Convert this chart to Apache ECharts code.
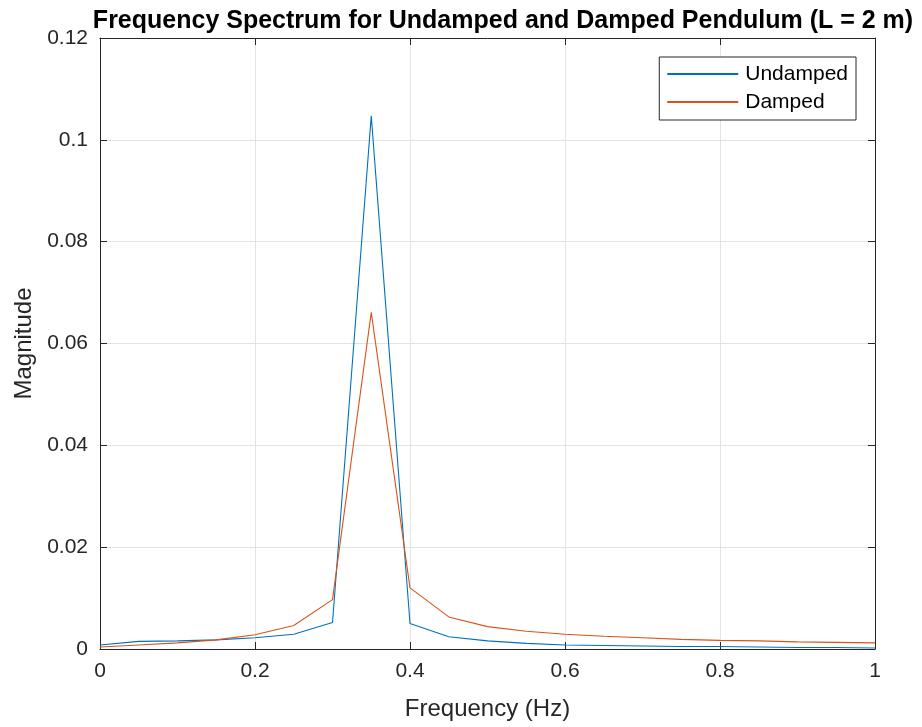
<!DOCTYPE html>
<html>
<head>
<meta charset="utf-8">
<script src="https://cdn.jsdelivr.net/npm/echarts@6/dist/echarts.min.js"></script>
<style>
  html, body { margin: 0; padding: 0; background: #fff; }
  #chart { width: 922px; height: 727px; }
</style>
</head>
<body>
<div id="chart"></div>
<script>
// frequency bins (Hz)
const freq = [0, 0.05, 0.1, 0.15, 0.2, 0.25, 0.3, 0.35, 0.4, 0.45, 0.5,
  0.55, 0.6, 0.65, 0.7, 0.75, 0.8, 0.85, 0.9, 0.95, 1.0]

const undamped = [0.0008, 0.0015, 0.0016, 0.0018, 0.0022, 0.0029, 0.0052, 0.1047, 0.0050, 0.0024, 0.0016,
  0.0011, 0.0008, 0.0007, 0.0006, 0.0005, 0.0005, 0.0004, 0.0003, 0.0003, 0.0002]

const damped = [0.0004, 0.0008, 0.0012, 0.0018, 0.0028, 0.0046, 0.0097, 0.0661, 0.0120, 0.0063, 0.0044,
  0.0035, 0.0029, 0.0025, 0.0022, 0.0019, 0.0017, 0.0016, 0.0014, 0.0013, 0.0012]

const toPairs = (ys) => freq.map((x, i) => [x, ys[i]])

const font = 'Liberation Sans, Arial, Helvetica, sans-serif'
const axisCol = '#262626'

var myChart = echarts.init(document.getElementById('chart'))

const boxAxis = {
  axisLine: { show: true, onZero: false, lineStyle: { color: axisCol, width: 1 } },
  axisTick: { show: true, inside: true, length: 7, lineStyle: { color: axisCol } },
  axisLabel: { show: false },
  splitLine: { show: false },
}

var option = {
  backgroundColor: '#fff',
  animation: false,
  title: {
    text: 'Frequency Spectrum for Undamped and Damped Pendulum (L = 2 m)',
    left: 498,
    top: 4,
    textAlign: 'center',
    textStyle: { fontFamily: font, fontSize: 25, fontWeight: 'bold', color: '#000' },
  },
  grid: { left: 100, right: 47, top: 38, bottom: 78 },
  legend: {
    orient: 'vertical',
    right: 66,
    top: 57,
    padding: [5, 8, 6, 8],
    itemGap: 4,
    itemWidth: 71,
    itemHeight: 2,
    icon: 'rect',
    borderColor: axisCol,
    borderWidth: 1,
    backgroundColor: '#fff',
    textStyle: { fontFamily: font, fontSize: 21, lineHeight: 24, color: '#000', padding: [0, 0, 0, 2] },
    data: ['Undamped', 'Damped'],
  },
  xAxis: [
    {
      type: 'value',
      min: 0,
      max: 1,
      interval: 0.2,
      name: 'Frequency (Hz)',
      nameLocation: 'middle',
      nameGap: 48,
      nameTextStyle: { fontFamily: font, fontSize: 24, color: axisCol },
      axisLine: { show: true, onZero: false, lineStyle: { color: axisCol } },
      axisTick: { show: true, inside: true, length: 7, lineStyle: { color: axisCol } },
      axisLabel: { fontFamily: font, fontSize: 21, color: axisCol, margin: 12 },
      splitLine: { show: true, lineStyle: { color: '#e3e3e3', width: 1 } },
    },
    Object.assign({ type: 'value', position: 'top', min: 0, max: 1, interval: 0.2 }, boxAxis),
  ],
  yAxis: [
    {
      type: 'value',
      min: 0,
      max: 0.12,
      interval: 0.02,
      name: 'Magnitude',
      nameLocation: 'middle',
      nameGap: 62,
      nameTextStyle: { fontFamily: font, fontSize: 24, color: axisCol },
      axisLine: { show: true, lineStyle: { color: axisCol } },
      axisTick: { show: true, inside: true, length: 7, lineStyle: { color: axisCol } },
      axisLabel: { fontFamily: font, fontSize: 21, color: axisCol, margin: 12 },
      splitLine: { show: true, lineStyle: { color: '#e3e3e3', width: 1 } },
    },
    Object.assign({ type: 'value', position: 'right', min: 0, max: 0.12, interval: 0.02 }, boxAxis),
  ],
  series: [
    {
      name: 'Undamped',
      type: 'line',
      data: toPairs(undamped),
      symbol: 'none',
      lineStyle: { color: '#0072BD', width: 1.1 },
      itemStyle: { color: '#0072BD' },
    },
    {
      name: 'Damped',
      type: 'line',
      data: toPairs(damped),
      symbol: 'none',
      lineStyle: { color: '#D95319', width: 1.1 },
      itemStyle: { color: '#D95319' },
    },
  ],
}

myChart.setOption(option)
</script>
</body>
</html>
